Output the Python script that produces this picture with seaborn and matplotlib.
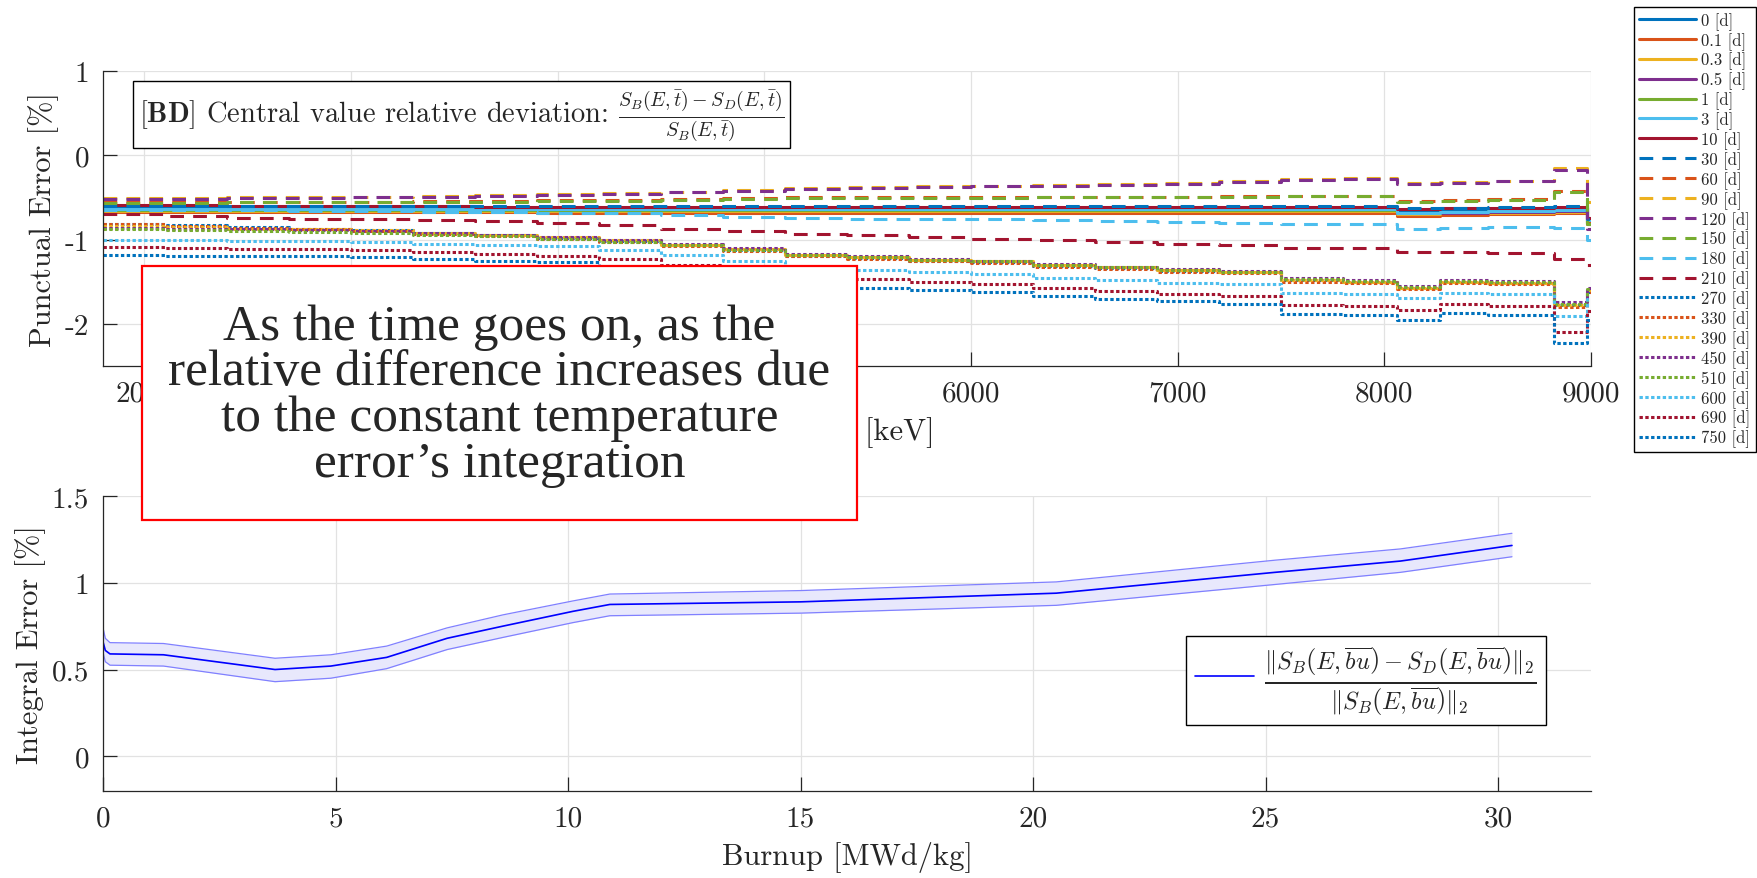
import matplotlib
matplotlib.use("Agg")
import matplotlib.pyplot as plt
from matplotlib.patches import Rectangle
import seaborn as sns

# ---- top panel: punctual error vs energy, one series per decay time ----
energy_kev = [1800, 2100, 2400, 2700, 3000, 3300, 3600, 3900, 4200, 4500, 4800, 5100, 5400, 5700,
              6000, 6300, 6600, 6900, 7200, 7500, 7800, 8060, 8270, 8500, 8820, 8980, 9000]

err_0 = [-0.63, -0.63, -0.63, -0.63, -0.63, -0.63, -0.63, -0.63, -0.63, -0.63, -0.63, -0.63, -0.63, -0.63,
         -0.63, -0.63, -0.63, -0.63, -0.63, -0.63, -0.63, -0.66, -0.65, -0.64, -0.63, -0.76, -0.76]
err_01 = [-0.67, -0.67, -0.67, -0.67, -0.67, -0.67, -0.67, -0.68, -0.68, -0.68, -0.68, -0.68, -0.68, -0.68,
          -0.68, -0.68, -0.68, -0.68, -0.68, -0.68, -0.68, -0.72, -0.71, -0.70, -0.69, -0.82, -0.82]
err_03 = [-0.66, -0.66, -0.66, -0.66, -0.66, -0.66, -0.66, -0.66, -0.66, -0.66, -0.66, -0.66, -0.66, -0.66,
          -0.66, -0.66, -0.66, -0.66, -0.66, -0.66, -0.66, -0.70, -0.69, -0.68, -0.67, -0.80, -0.80]
err_05 = [-0.65, -0.65, -0.65, -0.65, -0.65, -0.65, -0.65, -0.65, -0.65, -0.65, -0.65, -0.65, -0.65, -0.65,
          -0.65, -0.65, -0.65, -0.65, -0.65, -0.65, -0.65, -0.69, -0.68, -0.67, -0.66, -0.79, -0.79]
err_1 = [-0.645, -0.645, -0.645, -0.645, -0.645, -0.645, -0.645, -0.645, -0.645, -0.645, -0.645, -0.645, -0.645, -0.645,
         -0.645, -0.645, -0.645, -0.645, -0.645, -0.645, -0.645, -0.685, -0.675, -0.665, -0.655, -0.78, -0.78]
err_3 = [-0.64, -0.64, -0.64, -0.64, -0.64, -0.64, -0.64, -0.64, -0.64, -0.64, -0.64, -0.64, -0.64, -0.64,
         -0.64, -0.64, -0.64, -0.64, -0.64, -0.64, -0.64, -0.68, -0.67, -0.66, -0.65, -0.77, -0.77]
err_10 = [-0.59, -0.59, -0.60, -0.60, -0.60, -0.60, -0.61, -0.61, -0.61, -0.61, -0.61, -0.61, -0.61, -0.61,
          -0.61, -0.61, -0.61, -0.61, -0.61, -0.61, -0.61, -0.64, -0.63, -0.62, -0.61, -0.74, -0.74]
err_30 = [-0.60, -0.60, -0.60, -0.60, -0.60, -0.60, -0.60, -0.60, -0.60, -0.60, -0.60, -0.60, -0.60, -0.60,
          -0.60, -0.60, -0.60, -0.60, -0.60, -0.60, -0.60, -0.63, -0.62, -0.61, -0.60, -0.75, -0.75]
err_60 = [-0.56, -0.56, -0.55, -0.55, -0.55, -0.54, -0.54, -0.53, -0.53, -0.52, -0.51, -0.50, -0.50, -0.50,
          -0.50, -0.50, -0.49, -0.49, -0.48, -0.48, -0.48, -0.54, -0.53, -0.52, -0.42, -0.80, -0.80]
err_90 = [-0.51, -0.51, -0.50, -0.50, -0.49, -0.48, -0.47, -0.46, -0.45, -0.43, -0.41, -0.39, -0.38, -0.37,
          -0.36, -0.35, -0.34, -0.33, -0.31, -0.28, -0.27, -0.33, -0.32, -0.30, -0.15, -0.55, -0.55]
err_120 = [-0.52, -0.52, -0.51, -0.51, -0.50, -0.49, -0.48, -0.47, -0.46, -0.44, -0.42, -0.40, -0.39, -0.38,
           -0.37, -0.36, -0.35, -0.34, -0.32, -0.29, -0.28, -0.34, -0.33, -0.31, -0.17, -0.88, -0.88]
err_150 = [-0.57, -0.57, -0.56, -0.56, -0.56, -0.55, -0.55, -0.54, -0.54, -0.53, -0.52, -0.51, -0.51, -0.51,
           -0.51, -0.50, -0.50, -0.49, -0.49, -0.48, -0.48, -0.55, -0.54, -0.53, -0.44, -0.82, -0.82]
err_180 = [-0.645, -0.65, -0.655, -0.66, -0.665, -0.67, -0.675, -0.68, -0.69, -0.71, -0.73, -0.74, -0.75, -0.755,
           -0.76, -0.77, -0.78, -0.79, -0.80, -0.81, -0.81, -0.87, -0.86, -0.85, -0.86, -1.00, -1.00]
err_210 = [-0.70, -0.72, -0.74, -0.75, -0.76, -0.77, -0.78, -0.80, -0.83, -0.87, -0.90, -0.93, -0.95, -0.97,
           -0.99, -1.01, -1.03, -1.05, -1.07, -1.10, -1.10, -1.15, -1.15, -1.16, -1.23, -1.30, -1.30]
err_270 = [-0.82, -0.83, -0.85, -0.87, -0.89, -0.92, -0.95, -0.98, -1.02, -1.07, -1.12, -1.19, -1.22, -1.25,
           -1.27, -1.31, -1.34, -1.37, -1.39, -1.48, -1.50, -1.57, -1.50, -1.52, -1.78, -1.62, -1.62]
err_330 = [-0.82, -0.84, -0.86, -0.88, -0.90, -0.93, -0.96, -0.99, -1.03, -1.08, -1.13, -1.20, -1.23, -1.26,
           -1.28, -1.32, -1.35, -1.38, -1.40, -1.50, -1.52, -1.59, -1.52, -1.53, -1.80, -1.62, -1.62]
err_390 = [-0.84, -0.85, -0.87, -0.88, -0.89, -0.92, -0.94, -0.97, -1.01, -1.06, -1.11, -1.18, -1.21, -1.24,
           -1.26, -1.30, -1.33, -1.36, -1.38, -1.48, -1.50, -1.57, -1.50, -1.51, -1.78, -1.60, -1.60]
err_450 = [-0.86, -0.87, -0.88, -0.89, -0.90, -0.92, -0.94, -0.97, -1.01, -1.05, -1.10, -1.17, -1.20, -1.23,
           -1.25, -1.29, -1.32, -1.35, -1.37, -1.46, -1.48, -1.55, -1.48, -1.49, -1.74, -1.58, -1.58]
err_510 = [-0.88, -0.89, -0.90, -0.91, -0.92, -0.94, -0.96, -0.99, -1.03, -1.07, -1.12, -1.18, -1.21, -1.24,
           -1.26, -1.30, -1.33, -1.36, -1.38, -1.47, -1.49, -1.56, -1.49, -1.50, -1.76, -1.59, -1.59]
err_600 = [-1.00, -1.01, -1.02, -1.02, -1.03, -1.05, -1.06, -1.08, -1.12, -1.18, -1.25, -1.32, -1.36, -1.39,
           -1.41, -1.45, -1.48, -1.51, -1.53, -1.63, -1.64, -1.69, -1.63, -1.65, -1.91, -1.70, -1.70]
err_690 = [-1.09, -1.10, -1.11, -1.11, -1.12, -1.15, -1.17, -1.19, -1.23, -1.30, -1.37, -1.45, -1.47, -1.50,
           -1.53, -1.58, -1.61, -1.65, -1.67, -1.78, -1.79, -1.83, -1.77, -1.79, -2.10, -1.85, -1.85]
err_750 = [-1.18, -1.19, -1.20, -1.20, -1.21, -1.23, -1.25, -1.27, -1.32, -1.40, -1.47, -1.54, -1.57, -1.60,
           -1.62, -1.67, -1.70, -1.73, -1.76, -1.88, -1.89, -1.95, -1.87, -1.90, -2.23, -1.95, -1.95]

time_labels = ["0 [d]", "0.1 [d]", "0.3 [d]", "0.5 [d]", "1 [d]", "3 [d]", "10 [d]",
               "30 [d]", "60 [d]", "90 [d]", "120 [d]", "150 [d]", "180 [d]", "210 [d]",
               "270 [d]", "330 [d]", "390 [d]", "450 [d]", "510 [d]", "600 [d]", "690 [d]", "750 [d]"]
punctual = [err_0, err_01, err_03, err_05, err_1, err_3, err_10,
            err_30, err_60, err_90, err_120, err_150, err_180, err_210,
            err_270, err_330, err_390, err_450, err_510, err_600, err_690, err_750]

# ---- bottom panel: integral error vs burnup ----
burnup = [0.0, 0.05, 0.15, 1.3, 3.7, 4.9, 6.1, 7.4, 8.6, 10.1, 10.9, 15.0, 20.5, 25.2, 27.9, 30.3]
integral_mean = [0.66, 0.61, 0.59, 0.585, 0.50, 0.52, 0.57, 0.68, 0.75, 0.835, 0.875, 0.89, 0.94, 1.06, 1.125, 1.215]
integral_upper = [0.74, 0.68, 0.655, 0.65, 0.565, 0.585, 0.635, 0.74, 0.815, 0.895, 0.935, 0.955, 1.005, 1.13, 1.195, 1.285]
integral_lower = [0.60, 0.545, 0.525, 0.52, 0.43, 0.45, 0.505, 0.615, 0.685, 0.77, 0.81, 0.825, 0.87, 0.99, 1.06, 1.15]

matlab_colors = ["#0072BD", "#D95319", "#EDB120", "#7E2F8E", "#77AC30", "#4DBEEE", "#A2142F"]

sns.set_style("white")
plt.rcParams.update({
    "font.family": "cmr10",
    "mathtext.fontset": "cm",
    "axes.unicode_minus": False,
    "axes.edgecolor": "#262626",
    "axes.linewidth": 0.9,
})

fig = plt.figure(figsize=(17.58, 8.79), dpi=100)
W, H = 1758, 879
ax1 = fig.add_axes([103 / W, 1 - 367 / H, (1591 - 103) / W, (367 - 72) / H])
ax2 = fig.add_axes([103 / W, 1 - 792 / H, (1591 - 103) / W, (792 - 497) / H])

for i, (lab, vals) in enumerate(zip(time_labels, punctual)):
    if i < 7:
        ls = "-"
    elif i < 14:
        ls = (0, (4.5, 3.0))
    else:
        ls = (0, (1.1, 0.8))
    sns.lineplot(x=energy_kev, y=vals, ax=ax1, color=matlab_colors[i % 7], linestyle=ls, lw=2.2,
                 drawstyle="steps-post", label=lab, errorbar=None, sort=False)

ax1.set_xlim(1800, 9000)
ax1.set_ylim(-2.5, 1)
ax1.set_xticks([2000, 3000, 4000, 5000, 6000, 7000, 8000, 9000])
ax1.set_yticks([-2, -1, 0, 1])
ax1.set_xlabel("Energy [keV]", fontsize=22)
ax1.set_ylabel("Punctual Error [%]", fontsize=22)
ax1.xaxis.set_label_coords(0.5, -0.17)
ax1.yaxis.set_label_coords(-0.0296, 0.5)
h, l = ax1.get_legend_handles_labels()
ax1.get_legend().remove()

ax1.text(0.024, 0.8515,
         r"[$\mathbf{BD}$] Central value relative deviation: "
         r"$\frac{S_B(E,\bar{t})-S_D(E,\bar{t})}{S_B(E,\bar{t})}$",
         transform=ax1.transAxes, ha="left", va="center", fontsize=20.5,
         bbox=dict(boxstyle="square,pad=0.2", facecolor="white", edgecolor="black", lw=1.0), zorder=5)

fig.legend(h, l, loc="upper left", bbox_to_anchor=(1634 / W, 1 - 8 / H), fontsize=12,
           frameon=True, fancybox=False, edgecolor="black", framealpha=1, handlelength=3.4,
           labelspacing=0.13, borderpad=0.3, handletextpad=0.35, borderaxespad=0)

# bottom panel
ax2.fill_between(burnup, integral_lower, integral_upper, color="#e8e8fc", lw=0, zorder=1)
sns.lineplot(x=burnup, y=integral_upper, ax=ax2, color="#8080ff", lw=0.9, errorbar=None, sort=False)
sns.lineplot(x=burnup, y=integral_lower, ax=ax2, color="#8080ff", lw=0.9, errorbar=None, sort=False)
sns.lineplot(x=burnup, y=integral_mean, ax=ax2, color="#0000ff", lw=1.2, errorbar=None, sort=False,
             label=r"$\frac{\Vert S_B\left(E,\overline{bu}\right)-S_D\left(E,\overline{bu}\right)\Vert_2}"
                   r"{\Vert S_B\left(E,\overline{bu}\right)\Vert_2}$")
ax2.set_xlim(0, 32)
ax2.set_ylim(-0.2, 1.5)
ax2.set_xticks([0, 5, 10, 15, 20, 25, 30])
ax2.set_yticks([0, 0.5, 1, 1.5])
ax2.set_yticklabels(["0", "0.5", "1", "1.5"])
ax2.set_xlabel("Burnup [MWd/kg]", fontsize=22)
ax2.set_ylabel("Integral Error [%]", fontsize=22)
ax2.xaxis.set_label_coords(0.5, -0.168)
ax2.yaxis.set_label_coords(-0.0383, 0.5)
ax2.legend(loc="upper left", bbox_to_anchor=(0.728, 0.5264), fontsize=25, frameon=True, fancybox=False,
           edgecolor="black", framealpha=1, handlelength=1.7, handletextpad=0.3,
           borderpad=0.25, borderaxespad=0)

for ax in (ax1, ax2):
    ax.grid(True, color="#e2e2e2", lw=0.9)
    ax.set_axisbelow(True)
    ax.spines["top"].set_visible(False)
    ax.spines["right"].set_visible(False)
    ax.tick_params(direction="in", length=10, width=0.9, colors="#262626", labelsize=21,
                   pad=10, bottom=True, left=True)
    ax.xaxis.label.set_color("#262626")
    ax.yaxis.label.set_color("#262626")

# annotation box drawn over both panels
fig.add_artist(Rectangle((142 / W, 1 - 521 / H), (857 - 142) / W, (521 - 267) / H,
                         transform=fig.transFigure, facecolor="white", edgecolor="red", lw=1.6, zorder=10))
fig.text(499.5 / W, 1 - 396 / H,
         "As the time goes on, as the\nrelative difference increases due\n"
         "to the constant temperature\nerror\u2019s integration",
         ha="center", va="center", fontsize=37, family="Liberation Serif", linespacing=0.98, zorder=11)

fig.savefig("out.png", dpi=100)
